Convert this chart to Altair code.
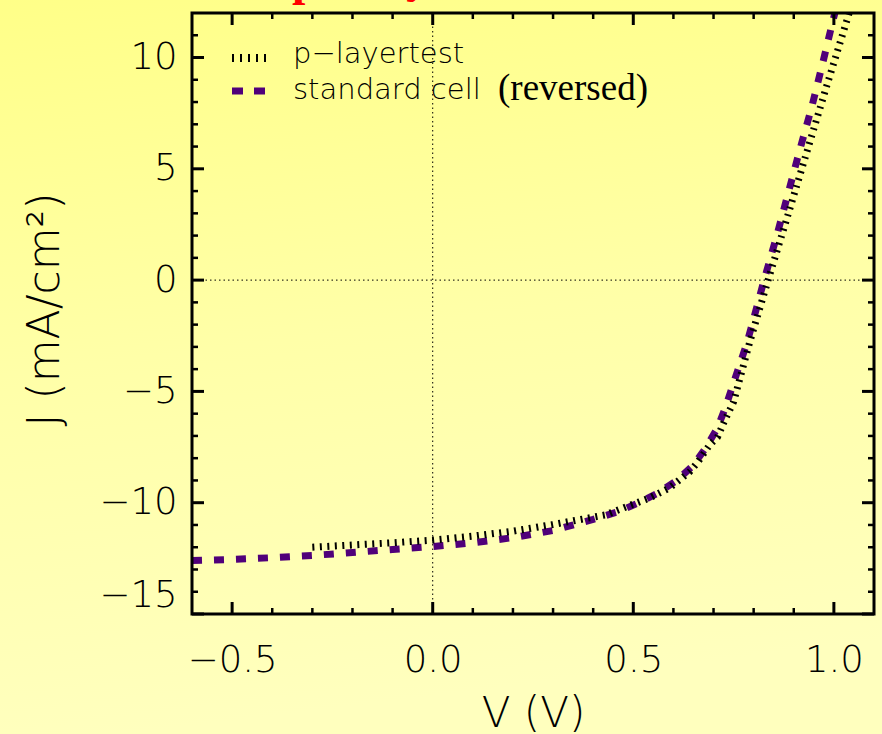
import altair as alt
import pandas as pd

# ---- data ----
std_v = [-0.6, -0.5, -0.4, -0.3, -0.2, -0.1, 0.0, 0.1, 0.2, 0.3, 0.4, 0.46, 0.51, 0.56,
         0.61, 0.65, 0.68, 0.71, 0.73, 0.783, 0.798, 0.826, 0.857, 0.886, 0.915, 0.945,
         0.972, 0.998, 1.02]
std_j = [-12.6, -12.55, -12.47, -12.37, -12.24, -12.1, -11.97, -11.8, -11.57, -11.25,
         -10.75, -10.42, -10.03, -9.58, -8.98, -8.31, -7.55, -6.64, -5.7, -2.84, -1.87,
         0.0, 1.95, 3.9, 5.85, 7.79, 9.74, 11.69, 13.2]

p_v = [-0.3, -0.2, -0.1, 0.0, 0.1, 0.2, 0.3, 0.43, 0.48, 0.54, 0.59, 0.64, 0.66, 0.69,
       0.71, 0.725, 0.75, 0.79, 0.836, 0.88, 0.93, 0.98, 1.033, 1.05]
p_j = [-12.0, -11.9, -11.8, -11.68, -11.5, -11.28, -10.98, -10.55, -10.2, -9.79, -9.34,
       -8.62, -8.2, -7.41, -7.05, -6.42, -5.47, -2.8, 0.0, 2.6, 5.6, 8.6, 11.7, 12.7]

series_names = ["p\u2212layertest", "standard cell ", "(reversed)"]
title_glyphs = ["p", "y"]

x_major = [-0.5, 0.0, 0.5, 1.0]
x_minor = [-0.4, -0.3, -0.2, -0.1, 0.1, 0.2, 0.3, 0.4, 0.6, 0.7, 0.8, 0.9]
y_major = [-15, -10, -5, 0, 5, 10]
y_minor = [-14, -13, -12, -11, -9, -8, -7, -6, -4, -3, -2, -1, 1, 2, 3, 4, 6, 7, 8, 9, 11]
zero_x = [0.0]
zero_y = [0]

# ---- layout ----
W, H = 682, 601
FONT = "DejaVu Sans"
SERIF = "Liberation Serif"
PURPLE = "#50007a"

xscale = alt.Scale(domain=[-0.6, 1.1], nice=False, zero=False)
yscale = alt.Scale(domain=[-15, 12], nice=False, zero=False)

XAXIS = alt.Axis(values=x_major, format=".1f", ticks=False, domain=False, grid=False,
                 labelFont=FONT, labelFontSize=37, labelFontWeight=200, labelColor="black",
                 labelPadding=28, title="V (V)", titleFont=FONT, titleFontSize=42,
                 titleFontWeight=200, titleColor="black", titleBaseline="middle",
                 titleY=99, zindex=1)
YAXIS = alt.Axis(values=y_major, format="d", ticks=False, domain=False, grid=False,
                 labelFont=FONT, labelFontSize=37, labelFontWeight=200, labelColor="black",
                 labelPadding=15, labelFlush=True, title="J (mA/cm\u00b2)", titleFont=FONT,
                 titleFontSize=44, titleFontWeight=200, titleColor="black",
                 titleAngle=270, titleAlign="center", titleBaseline="middle",
                 titleX=-147, titleY=296, zindex=1)


def X(field="V"):
    return alt.X(f"{field}:Q", scale=xscale, axis=XAXIS)


def Y(field="J"):
    return alt.Y(f"{field}:Q", scale=yscale, axis=YAXIS)


one = pd.DataFrame({"k": [0]})

bg = alt.Chart(one).mark_rect(
    fill=alt.LinearGradient(
        gradient="linear", x1=0, y1=0, x2=0.15, y2=1,
        stops=[alt.GradientStop(color="#ffff88", offset=0),
               alt.GradientStop(color="#ffffa8", offset=0.5),
               alt.GradientStop(color="#ffffbe", offset=1)]),
    stroke=None
).encode(x=alt.value(-192), x2=alt.value(W + 8), y=alt.value(-13), y2=alt.value(H + 120))

red_p = alt.Chart(one).mark_text(
    text=title_glyphs[0], font=SERIF, fontSize=48, fontWeight="bold", color="#ff0000",
    align="left", baseline="alphabetic"
).encode(x=alt.value(100), y=alt.value(-18))
red_y = alt.Chart(one).mark_text(
    text=title_glyphs[1], font=SERIF, fontSize=48, fontWeight="bold", color="#ff0000",
    align="left", baseline="alphabetic"
).encode(x=alt.value(214), y=alt.value(-21))

zx = alt.Chart(pd.DataFrame({"V": zero_x})).mark_rule(
    color="black", strokeWidth=1, strokeDash=[1.5, 3]
).encode(x=X(), y=alt.value(0), y2=alt.value(H))
zy = alt.Chart(pd.DataFrame({"J": zero_y})).mark_rule(
    color="black", strokeWidth=1, strokeDash=[1.5, 3]
).encode(y=Y(), x=alt.value(0), x2=alt.value(W))

std_line = alt.Chart(pd.DataFrame({"V": std_v, "J": std_j})).mark_line(
    color=PURPLE, strokeWidth=7, strokeDash=[10, 12], strokeCap="butt", clip=True
).encode(x=X(), y=Y())
p_line = alt.Chart(pd.DataFrame({"V": p_v, "J": p_j})).mark_line(
    color="black", strokeWidth=7, strokeDash=[2, 5.5], strokeCap="butt", clip=True
).encode(x=X(), y=Y())

# ticks (inward, mirrored)
MAJ, MIN = 12, 6
xmaj = pd.DataFrame({"V": x_major})
xmin = pd.DataFrame({"V": x_minor})
ymaj = pd.DataFrame({"J": y_major})
ymin = pd.DataFrame({"J": y_minor})
tick_layers = []
for df, ln, sw in [(xmaj, MAJ, 3), (xmin, MIN, 2.5)]:
    tick_layers.append(alt.Chart(df).mark_rule(color="black", strokeWidth=sw)
                       .encode(x=X(), y=alt.value(H), y2=alt.value(H - ln)))
    tick_layers.append(alt.Chart(df).mark_rule(color="black", strokeWidth=sw)
                       .encode(x=X(), y=alt.value(0), y2=alt.value(ln)))
for df, ln, sw in [(ymaj, MAJ, 3), (ymin, MIN, 2.5)]:
    tick_layers.append(alt.Chart(df).mark_rule(color="black", strokeWidth=sw)
                       .encode(y=Y(), x=alt.value(0), x2=alt.value(ln)))
    tick_layers.append(alt.Chart(df).mark_rule(color="black", strokeWidth=sw)
                       .encode(y=Y(), x=alt.value(W), x2=alt.value(W - ln)))

frame = alt.Chart(one).mark_rect(
    fill="transparent", stroke="black", strokeWidth=3
).encode(x=alt.value(0), x2=alt.value(W), y=alt.value(0), y2=alt.value(H))

# legend
leg_black = alt.Chart(one).mark_rule(
    color="black", strokeWidth=8, strokeDash=[2, 6], strokeCap="butt"
).encode(x=alt.value(40), x2=alt.value(78), y=alt.value(45))
leg_purple = alt.Chart(one).mark_rule(
    color=PURPLE, strokeWidth=7, strokeDash=[11, 11], strokeCap="butt"
).encode(x=alt.value(40), x2=alt.value(74), y=alt.value(78))
leg_t1 = alt.Chart(one).mark_text(
    text=series_names[0], font=FONT, fontSize=29, fontWeight=200, color="black",
    align="left", baseline="alphabetic"
).encode(x=alt.value(101), y=alt.value(50))
leg_t2 = alt.Chart(one).mark_text(
    text=series_names[1], font=FONT, fontSize=29, fontWeight=200, color="black",
    align="left", baseline="alphabetic"
).encode(x=alt.value(101), y=alt.value(86))
leg_t3 = alt.Chart(one).mark_text(
    text=series_names[2], font=SERIF, fontSize=37, fontWeight="normal", color="black",
    align="left", baseline="alphabetic"
).encode(x=alt.value(306), y=alt.value(87))

chart = alt.layer(
    bg, red_p, red_y, zx, zy, std_line, p_line, *tick_layers, frame,
    leg_black, leg_purple, leg_t1, leg_t2, leg_t3
).properties(
    width=W, height=H,
    autosize=alt.AutoSizeParams(type="none"),
    padding={"left": 192, "top": 13, "right": 8, "bottom": 120},
).configure(background="#ffffa8").configure_view(stroke=None)

chart.save("out.html", embed_options={"renderer": "svg", "actions": False})
